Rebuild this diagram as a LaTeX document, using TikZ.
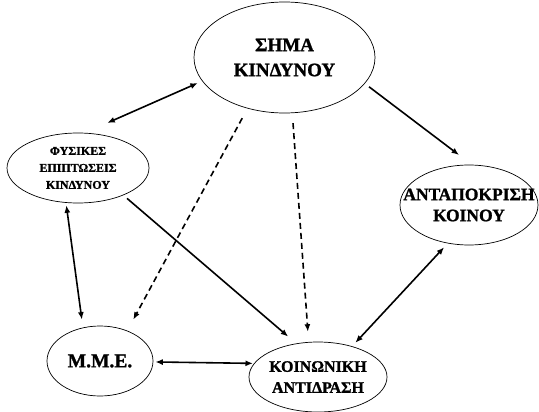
\documentclass[tikz,border=0pt]{standalone}
\usepackage{fontspec}
\setmainfont{Liberation Serif}[BoldFeatures={FakeBold=1.2}]
\usetikzlibrary{shapes.geometric,arrows.meta}

\begin{document}
\begin{tikzpicture}[x=1pt, y=-1pt,
        bubble/.style={ellipse, draw, line width=0.7pt, inner sep=-20pt, align=center},
        oneway/.style={line width=1.6pt, -{Latex[length=7.5pt,width=6pt]}},
        twoway/.style={line width=1.6pt, {Latex[length=7.5pt,width=6pt]}-{Latex[length=7.5pt,width=6pt]}},
        hint/.style={oneway, dash pattern=on 6pt off 4pt}]
        \useasboundingbox (0,0) rectangle (539,412);
        \node[bubble, minimum width=181pt, minimum height=111pt, font=\bfseries\fontsize{19}{25}\selectfont] (sima) at (284.5,57.5) {ΣΗΜΑ\\ΚΙΝΔΥΝΟΥ};
        \node[bubble, minimum width=142pt, minimum height=70pt, font=\bfseries\fontsize{12}{17}\selectfont] (fysikes) at (78,168) {ΦΥΣΙΚΕΣ\\ΕΠΙΠΤΩΣΕΙΣ\\ΚΙΝΔΥΝΟΥ};
        \node[bubble, minimum width=138pt, minimum height=80pt, font=\bfseries\fontsize{17.5}{21}\selectfont] (koinou) at (469,205) {ΑΝΤΑΠΟΚΡΙΣΗ\\ΚΟΙΝΟΥ};
        \node[bubble, minimum width=106pt, minimum height=70pt, font=\bfseries\fontsize{19.5}{24}\selectfont] (mme) at (100,361) {Μ.Μ.Ε.};
        \node[bubble, minimum width=138pt, minimum height=70pt, font=\bfseries\fontsize{16}{21}\selectfont] (antidrasi) at (318,377) {ΚΟΙΝΩΝΙΚΗ\\ΑΝΤΙΔΡΑΣΗ};
        \draw[twoway, shorten <=4.7pt, shorten >=24.5pt] (sima.196) -- (fysikes.79);
        \draw[oneway, shorten <=5.3pt, shorten >=16pt] (sima.342) -- (koinou.86);
        \draw[hint, shorten <=11pt, shorten >=12.5pt] (sima.234.4) -- (mme.48);
        \draw[hint, shorten <=10pt, shorten >=10.3pt] (sima.278.4) -- (antidrasi.105);
        \draw[oneway, shorten <=4.8pt, shorten >=10.5pt] (fysikes.329.4) -- (antidrasi.123.7);
        \draw[twoway, shorten <=2.5pt, shorten >=8pt] (fysikes.251.9) -- (mme.117.2);
        \draw[twoway, shorten <=2pt, shorten >=1pt] (mme.359) -- (antidrasi.168.5);
        \draw[twoway, shorten <=4.7pt, shorten >=5.3pt] (antidrasi.42.2) -- (koinou.241.8);
\end{tikzpicture}
\end{document}
